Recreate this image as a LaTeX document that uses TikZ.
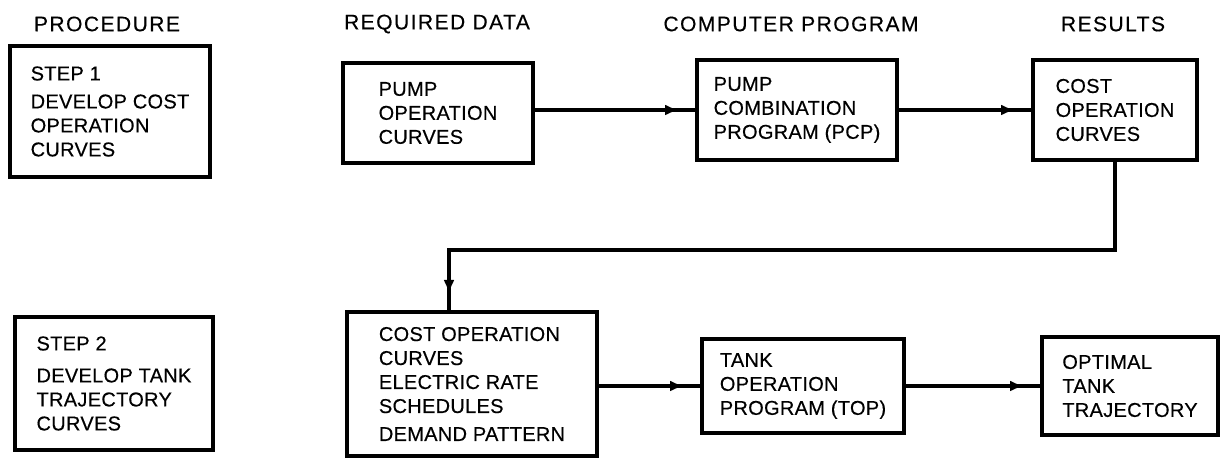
\documentclass[tikz,border=0pt]{standalone}
\usepackage{fontspec}
\setmainfont[LetterSpace=1.5,FakeBold=0.4]{Liberation Sans}
\newfontfamily\headfont[LetterSpace=7,FakeBold=0.4]{Liberation Sans}
\usetikzlibrary{arrows.meta,decorations.markings}

\begin{document}
\begin{tikzpicture}[x=0.5pt,y=-0.5pt,
  head/.style={font=\headfont\fontsize{10.5}{12}\selectfont},
  box/.style={draw,line width=2pt,align=left,inner sep=0pt,
    font=\fontsize{10}{12}\selectfont},
  flow/.style={line width=1.6pt,postaction={decorate},
    decoration={markings,mark=at position -8pt with {\arrow{Latex[length=7pt,width=5.5pt]}}}}]
\useasboundingbox (0,0) rectangle (1220,458);
% column titles
\node [head] (p) at (107,24) {PROCEDURE};
\node [head] (q) at (437,24) {REQUIRED DATA};
\node [head] (r) at (791,24) {COMPUTER PROGRAM};
\node [head] (s) at (1113,24) {RESULTS};
% step 1
\node [box,minimum width=100pt,minimum height=65.5pt] (a) at (110,111.5)
  {STEP 1\\[2pt] DEVELOP COST\\ OPERATION\\ CURVES};
\node [box,minimum width=95pt,minimum height=50pt] (b) at (438,113)
  {PUMP\\ OPERATION\\ CURVES};
\node [box,minimum width=100pt,minimum height=50pt] (c) at (797,110)
  {PUMP\\ COMBINATION\\ PROGRAM (PCP)};
\node [box,minimum width=82pt,minimum height=50pt] (d) at (1115,110)
  {COST\\ OPERATION\\ CURVES};
% step 2
\node [box,minimum width=99pt,minimum height=66.5pt] (e) at (114,383.5)
  {STEP 2\\[4pt] DEVELOP TANK\\ TRAJECTORY\\ CURVES};
\node [box,minimum width=125pt,minimum height=72pt] (f) at (472,384)
  {COST OPERATION\\ CURVES\\ ELECTRIC RATE\\ SCHEDULES\\[2pt] DEMAND PATTERN};
\node [box,minimum width=101pt,minimum height=47pt] (g) at (803,386)
  {TANK\\ OPERATION\\ PROGRAM (TOP)};
\node [box,minimum width=88pt,minimum height=49pt] (h) at (1130,386)
  {OPTIMAL\\ TANK\\ TRAJECTORY};
\coordinate (k) at (449,250);
\draw [flow] (b.east |- c.west) -- (c.west);
\draw [flow] (c.east) -- (d.west);
\draw [flow] (d.south) |- (k) -- (k |- f.north);
\draw [flow] (f.east |- g.west) -- (g.west);
\draw [flow] (g.east) -- (h.west);
\end{tikzpicture}
\end{document}
